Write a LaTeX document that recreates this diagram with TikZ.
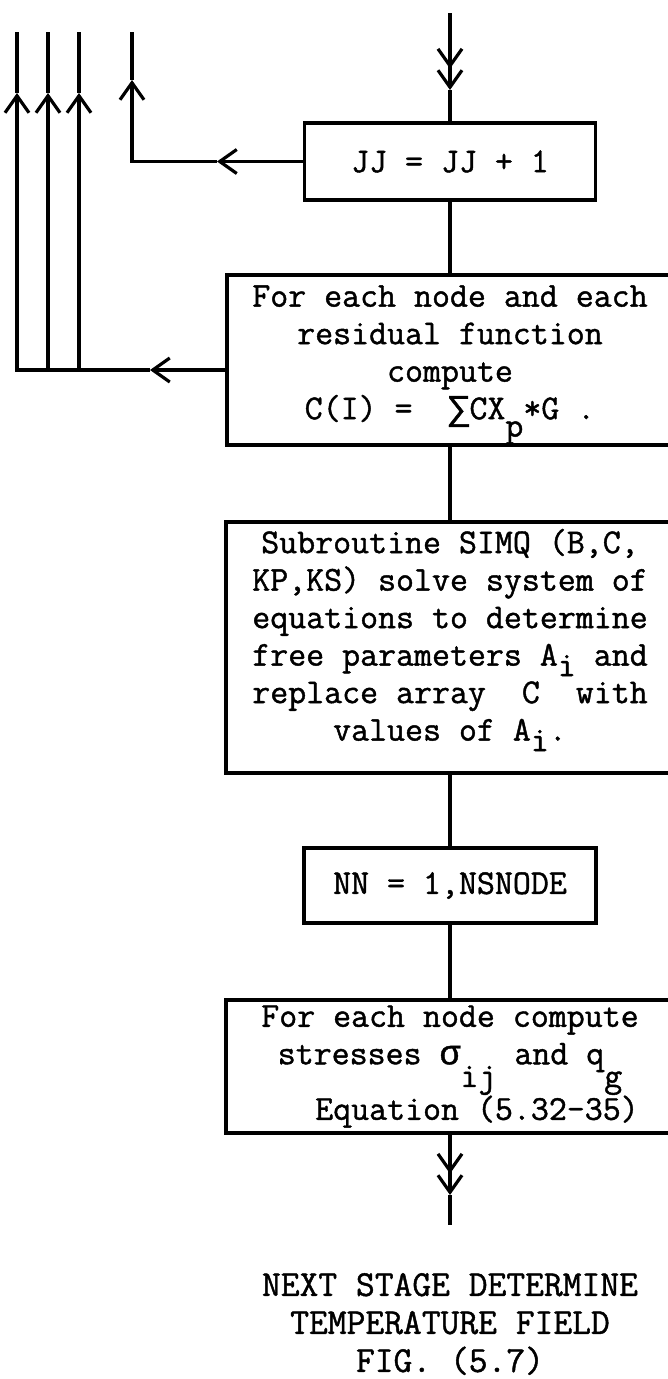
\documentclass[tikz,border=0pt]{standalone}
\usepackage{fontspec}
\setmonofont{Latin Modern Mono}[FakeBold=1.2]
\newfontfamily\symf{Liberation Mono}[FakeBold=1.2]
\usetikzlibrary{arrows.meta}

% typed subscript: full size letter dropped below the line
\newcommand{\low}[2][0.4em]{\smash{\raisebox{-#1}{#2}}}

\tikzset{
  box/.style={draw, line width=3.2pt, align=center, inner sep=0pt,
    font=\ttfamily\fontsize{34.9}{37.5}\selectfont},
  wire/.style={line width=3.2pt},
  barb/.style={-{Straight Barb[length=17pt,width=24pt]}},
  dbarb/.style={-{Straight Barb[length=17pt,width=24pt]Straight Barb[length=17pt,width=24pt]}},
}

\begin{document}
\begin{tikzpicture}[x=1pt,y=-1pt]
\useasboundingbox (0,0) rectangle (668,1379);
\clip (0,0) rectangle (668,1379);
% boxes
\node[box, minimum width=291, minimum height=77] (jj) at (450,161.5) {JJ = JJ + 1};
\node[box, minimum width=446, minimum height=170] (resid) at (450,360)
  {For each node and each\\residual function\\compute\\C(I) =~~{\symf ∑}CX\low[0.5em]{p}*G .\\[-22pt]};
\node[box, minimum width=448, minimum height=251] (simq) at (450,647.5)
  {Subroutine SIMQ (B,C,\\KP,KS) solve system of\\equations to determine\\free parameters A\low[0.3em]{i} and\\replace array~ C~ with\\values of A\low[0.3em]{i}.\\[-12pt]};
\node[box, minimum width=292, minimum height=75] (nn) at (450,885.5) {NN = 1,NSNODE};
\node[box, minimum width=448, minimum height=133] (stress) at (450,1066.5)
  {For each node compute\\stresses {\symf σ}\low[0.65em]{ij} and q\low[0.65em]{g}\\[18pt]\hspace*{54pt}Equation (5.32-35)};
\node[align=center, inner sep=0pt, font=\ttfamily\fontsize{36.5}{38}\selectfont] (next) at (450,1324)
  {NEXT STAGE DETERMINE\\TEMPERATURE FIELD\\FIG. (5.7)};
% entry from above
\coordinate (in) at (450,13);
\coordinate (intip) at (450,90);
\draw[wire,dbarb] (in) -- (intip);
\draw[wire] (intip) -- (jj.north);
% main flow
\draw[wire] (jj.south) -- (resid.north);
\draw[wire] (resid.south) -- (simq.north);
\draw[wire] (simq.south) -- (nn.north);
\draw[wire] (nn.south) -- (stress.north);
\coordinate (outtip) at (450,1195);
\coordinate (out) at (450,1225);
\draw[wire,dbarb] (stress.south) -- (outtip);
\draw[wire] (outtip) -- (out);
% back from JJ
\coordinate (jjtip) at (217,161.5);
\coordinate (jjup) at (132,80);
\coordinate (jjend) at (132,32);
\draw[wire,barb] (jj.west) -- (jjtip);
\draw[wire,barb] (jjtip) -| (jjup);
\draw[wire] (jjup) -- (jjend);
% back from residuals
\coordinate (rtip) at (150,370);
\draw[wire,barb] (resid.west |- rtip) -- (rtip);
\draw[wire,barb] (rtip) -| (17,93);
\draw[wire] (17,93) -- (17,32);
\foreach \x in {48,79} {
  \draw[wire,barb] (\x,370) -- (\x,93);
  \draw[wire] (\x,93) -- (\x,32);
}
\end{tikzpicture}
\end{document}
